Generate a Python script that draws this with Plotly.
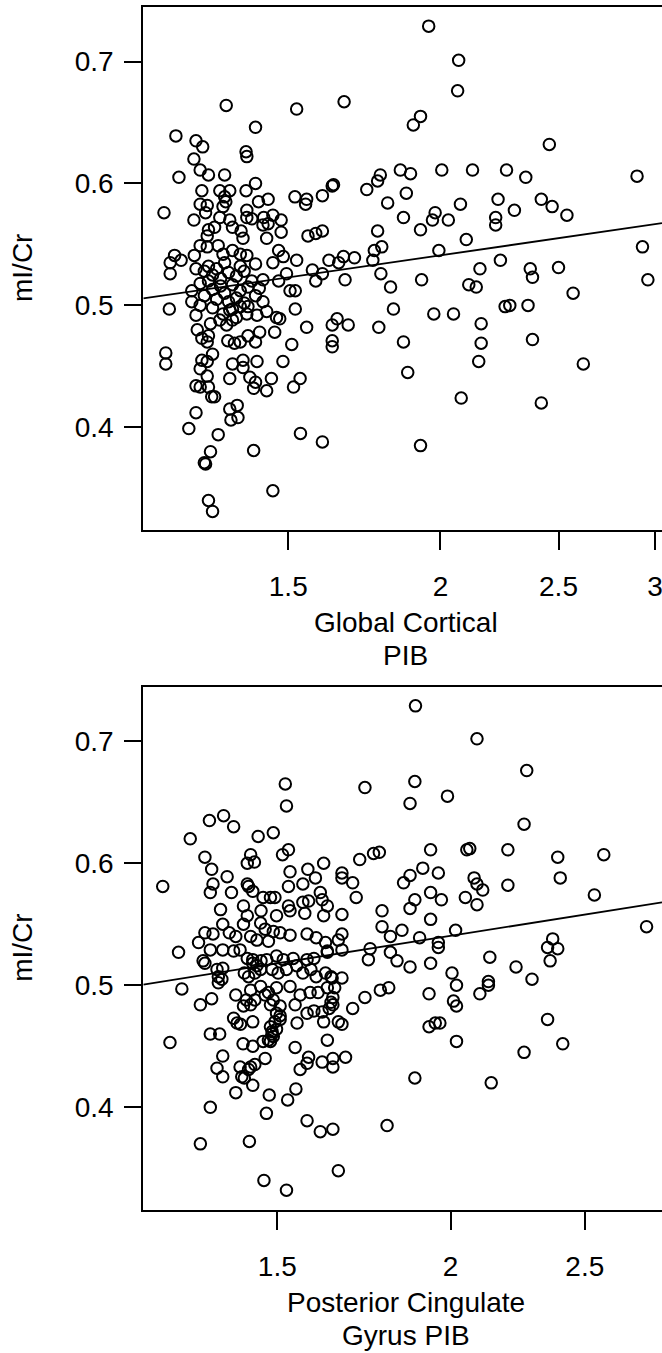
import plotly.graph_objects as go

# ---------------- data ----------------
# Panel 1: Global Cortical PIB (x, log scale) vs mI/Cr (y)
gc_x = [1.956, 2.07, 2.066, 1.667, 1.926, 1.90, 2.457, 1.634, 1.74, 1.776, 1.785, 1.854, 1.89, 1.875, 1.81,
        2.005, 2.125, 2.266, 2.35, 2.90, 2.077, 2.23, 2.30, 2.42, 2.47, 2.54, 1.98, 1.97, 2.03, 2.22, 2.22,
        1.865, 1.926, 1.776, 1.79, 1.765, 2.10, 1.994, 2.93, 1.76, 1.665, 1.70, 1.65, 1.787, 2.24, 2.155,
        2.37, 2.50, 2.38, 1.67, 1.93, 2.96, 2.11, 2.14, 1.82, 2.57,
        2.28, 2.26, 2.36, 1.83, 1.975, 2.05, 2.16, 1.78, 1.68, 1.645, 1.63, 1.865, 2.16, 2.38, 2.15, 2.62,
        1.88, 2.08, 2.42, 1.926, 1.63, 1.63,
        1.334, 1.524, 1.41, 1.213, 1.26, 1.276, 1.385, 1.387, 1.255, 1.27, 1.29, 1.33, 1.22, 1.274, 1.318,
        1.343, 1.385, 1.41, 1.33, 1.333, 1.326, 1.27, 1.287, 1.283, 1.418, 1.444, 1.387, 1.519, 1.553, 1.55,
        1.60, 1.63, 1.186, 1.255, 1.318, 1.343, 1.387, 1.40, 1.432, 1.457, 1.48, 1.43, 1.444, 1.29, 1.305,
        1.35, 1.372, 1.48, 1.44, 1.287, 1.377, 1.557, 1.58, 1.60, 1.27, 1.287, 1.314, 1.326, 1.35, 1.37,
        1.387, 1.473, 1.41, 1.457, 1.486, 1.524, 1.21, 1.20, 1.225, 1.20, 1.256, 1.26, 1.62, 1.57, 1.60,
        1.58, 1.495, 1.473, 1.43, 1.505, 1.52, 1.25, 1.27,
        1.28, 1.30, 1.31, 1.29, 1.32, 1.34, 1.36, 1.38, 1.35, 1.30, 1.33, 1.37, 1.39, 1.40, 1.28, 1.31,
        1.34, 1.36, 1.38, 1.41, 1.27, 1.30, 1.35, 1.39, 1.32, 1.42, 1.43, 1.29, 1.33, 1.37,
        1.198, 1.25, 1.26, 1.263, 1.274, 1.287, 1.29, 1.295, 1.318, 1.335, 1.35, 1.326, 1.343, 1.36, 1.37,
        1.387, 1.414, 1.44, 1.467, 1.476, 1.52, 1.553, 1.51, 1.462, 1.421, 1.39, 1.41, 1.338, 1.355, 1.37,
        1.19, 1.19, 1.274, 1.27, 1.287, 1.30, 1.35, 1.377, 1.377, 1.414, 1.485, 1.287, 1.343, 1.395, 1.41,
        1.405, 1.453, 1.44, 1.534, 1.515, 1.26, 1.27, 1.29, 1.298, 1.305, 1.362, 1.343, 1.364, 1.346, 1.26,
        1.243, 1.314, 1.535, 1.60, 1.405, 1.295, 1.28, 1.283, 1.457, 1.29, 1.30]
gc_y = [0.729, 0.701, 0.676, 0.667, 0.655, 0.648, 0.632, 0.599, 0.595, 0.602, 0.607, 0.611, 0.608, 0.592, 0.584,
        0.611, 0.611, 0.611, 0.605, 0.606, 0.583, 0.587, 0.578, 0.587, 0.581, 0.574, 0.576, 0.570, 0.570, 0.572, 0.566,
        0.572, 0.562, 0.561, 0.548, 0.545, 0.554, 0.545, 0.548, 0.537, 0.540, 0.539, 0.535, 0.526, 0.537, 0.530,
        0.530, 0.531, 0.523, 0.521, 0.521, 0.521, 0.517, 0.515, 0.515, 0.510,
        0.500, 0.499, 0.500, 0.497, 0.493, 0.493, 0.485, 0.482, 0.484, 0.489, 0.484, 0.470, 0.469, 0.472, 0.454, 0.452,
        0.445, 0.424, 0.420, 0.385, 0.471, 0.466,
        0.664, 0.661, 0.646, 0.639, 0.635, 0.630, 0.626, 0.622, 0.620, 0.611, 0.607, 0.607, 0.605, 0.594, 0.594,
        0.594, 0.594, 0.600, 0.589, 0.585, 0.581, 0.583, 0.582, 0.576, 0.585, 0.587, 0.578, 0.589, 0.587, 0.583,
        0.590, 0.598, 0.576, 0.570, 0.572, 0.570, 0.572, 0.571, 0.572, 0.574, 0.570, 0.566, 0.567, 0.562, 0.564,
        0.564, 0.561, 0.560, 0.555, 0.557, 0.555, 0.557, 0.559, 0.561, 0.549, 0.548, 0.549, 0.542, 0.545, 0.542,
        0.541, 0.545, 0.534, 0.535, 0.540, 0.537, 0.541, 0.535, 0.537, 0.526, 0.541, 0.530, 0.537, 0.529, 0.526,
        0.520, 0.526, 0.520, 0.521, 0.512, 0.512, 0.512, 0.518,
        0.528, 0.525, 0.530, 0.520, 0.522, 0.527, 0.524, 0.528, 0.517, 0.513, 0.510, 0.512, 0.515, 0.520, 0.508, 0.505,
        0.503, 0.506, 0.502, 0.508, 0.500, 0.498, 0.497, 0.499, 0.516, 0.514, 0.503, 0.532, 0.535, 0.532,
        0.497, 0.503, 0.492, 0.480, 0.473, 0.470, 0.475, 0.485, 0.488, 0.484, 0.488, 0.493, 0.496, 0.490, 0.499,
        0.493, 0.492, 0.495, 0.490, 0.489, 0.497, 0.482, 0.468, 0.478, 0.478, 0.475, 0.470, 0.471, 0.469, 0.470,
        0.461, 0.452, 0.455, 0.448, 0.454, 0.460, 0.452, 0.455, 0.449, 0.454, 0.454, 0.442, 0.440, 0.441, 0.437,
        0.432, 0.440, 0.430, 0.440, 0.433, 0.434, 0.433, 0.433, 0.425, 0.425, 0.418, 0.415, 0.408, 0.406, 0.412,
        0.399, 0.394, 0.395, 0.388, 0.381, 0.380, 0.371, 0.370, 0.348, 0.340, 0.331]

# Panel 2: Posterior Cingulate Gyrus PIB (x, log scale) vs mI/Cr (y)
pcg_x = [1.887, 2.09, 2.27, 1.735, 1.885, 1.87, 1.99, 2.26, 1.72, 1.76, 1.777, 1.935, 2.055, 2.065, 2.2, 2.39,
         2.58, 1.67, 1.67, 1.70, 1.85, 1.87, 1.91, 1.96, 2.08, 2.09, 2.11, 2.2, 2.40, 2.54, 1.71, 1.935, 1.885,
         1.97, 2.05, 2.09, 1.785, 1.87, 1.67, 1.935, 1.785, 1.845, 2.017, 2.77, 1.81, 1.90, 1.67, 1.66, 1.75,
         1.745, 1.81, 1.83, 1.96, 1.96, 1.935, 1.87, 2.135, 2.23, 2.35, 2.37, 2.39, 2.36, 2.005, 2.29, 2.13,
         1.64, 1.63, 1.67,
         1.78, 1.805, 1.735, 1.70, 1.93, 2.02, 2.01, 2.02, 2.10, 2.13, 1.93, 1.95, 1.965, 2.35, 2.02, 2.41,
         2.26, 1.885, 2.14, 1.80, 1.66,
         1.28, 1.32, 1.345, 1.255, 1.342, 1.363, 1.37, 1.357, 1.37, 1.40, 1.342, 1.32, 1.432, 1.467, 1.523,
         1.473, 1.48, 1.526, 1.547, 1.576, 1.611, 1.645, 1.41, 1.43, 1.435, 1.445, 1.44, 1.42, 1.414, 1.47,
         1.545, 1.558, 1.576, 1.58, 1.616, 1.645, 1.645, 1.68, 1.63, 1.417, 1.44, 1.465, 1.483, 1.487, 1.483,
         1.494, 1.507, 1.498, 1.395, 1.403, 1.411, 1.44, 1.55, 1.62, 1.66, 1.67, 1.576, 1.594, 1.616, 1.635,
         1.645, 1.545, 1.435, 1.459, 1.478, 1.498, 1.532, 1.558, 1.584, 1.605, 1.63, 1.65, 1.645, 1.64, 1.40,
         1.425, 1.435, 1.445, 1.47, 1.49, 1.483, 1.507, 1.418, 1.487, 1.49, 1.478, 1.498, 1.507, 1.36,
         1.52, 1.523, 1.34, 1.372, 1.395, 1.298, 1.453, 1.49, 1.513, 1.528, 1.435, 1.427, 1.444, 1.33, 1.345,
         1.62, 1.532, 1.578, 1.598, 1.565, 1.528, 1.38, 1.348, 1.342, 1.39, 1.427, 1.43, 1.44, 1.24, 1.465,
         1.483, 1.494, 1.528, 1.565, 1.58, 1.611, 1.616, 1.63, 1.365, 1.418, 1.427, 1.46, 1.498, 1.532, 1.57,
         1.62, 1.37, 1.418, 1.459, 1.47, 1.49, 1.507, 1.33, 1.348, 1.385, 1.40, 1.435, 1.45, 1.478, 1.532,
         1.576, 1.60, 1.625, 1.316, 1.342, 1.37, 1.395, 1.41, 1.273, 1.326, 1.33, 1.427, 1.44, 1.46, 1.474,
         1.498, 1.515, 1.54, 1.576, 1.594, 1.63, 1.44, 1.45, 1.445, 1.459, 1.43, 1.42, 1.357, 1.36, 1.37,
         1.368, 1.487, 1.502, 1.523, 1.549, 1.565, 1.586, 1.60, 1.625, 1.643, 1.67]
pcg_y = [0.729, 0.702, 0.676, 0.662, 0.667, 0.649, 0.655, 0.632, 0.603, 0.608, 0.609, 0.611, 0.611, 0.612, 0.611, 0.605,
         0.607, 0.592, 0.588, 0.584, 0.584, 0.590, 0.596, 0.592, 0.588, 0.583, 0.578, 0.582, 0.588, 0.574, 0.572, 0.576, 0.570,
         0.570, 0.572, 0.566, 0.561, 0.563, 0.558, 0.554, 0.548, 0.545, 0.545, 0.548, 0.540, 0.539, 0.542, 0.537, 0.530,
         0.521, 0.527, 0.520, 0.535, 0.531, 0.518, 0.515, 0.523, 0.515, 0.531, 0.538, 0.530, 0.520, 0.510, 0.505, 0.503,
         0.507, 0.528, 0.529,
         0.496, 0.498, 0.490, 0.481, 0.493, 0.500, 0.487, 0.483, 0.493, 0.500, 0.466, 0.469, 0.469, 0.472, 0.454, 0.452,
         0.445, 0.424, 0.420, 0.385, 0.348,
         0.497, 0.484, 0.489, 0.453, 0.460, 0.460, 0.442, 0.432, 0.425, 0.412, 0.400, 0.370, 0.372, 0.340, 0.332,
         0.395, 0.410, 0.406, 0.415, 0.389, 0.380, 0.382, 0.433, 0.431, 0.433, 0.435, 0.418, 0.424, 0.425, 0.440,
         0.449, 0.431, 0.436, 0.441, 0.437, 0.440, 0.433, 0.441, 0.455, 0.452, 0.450, 0.454, 0.454, 0.460, 0.466,
         0.470, 0.472, 0.477, 0.473, 0.469, 0.468, 0.470, 0.469, 0.470, 0.470, 0.468, 0.477, 0.479, 0.478, 0.481,
         0.484, 0.484, 0.496, 0.499, 0.494, 0.498, 0.499, 0.492, 0.494, 0.494, 0.498, 0.498, 0.490, 0.486, 0.492,
         0.488, 0.484, 0.488, 0.492, 0.488, 0.484, 0.483, 0.483, 0.462, 0.458, 0.455, 0.464, 0.475, 0.502,
         0.665, 0.647, 0.635, 0.639, 0.630, 0.620, 0.622, 0.625, 0.607, 0.611, 0.607, 0.600, 0.601, 0.605, 0.595,
         0.600, 0.593, 0.595, 0.588, 0.583, 0.581, 0.589, 0.583, 0.576, 0.576, 0.583, 0.581, 0.577, 0.581, 0.572,
         0.572, 0.572, 0.565, 0.568, 0.569, 0.576, 0.570, 0.565, 0.562, 0.565, 0.557, 0.561, 0.557, 0.561, 0.559,
         0.557, 0.550, 0.550, 0.551, 0.546, 0.544, 0.543, 0.543, 0.542, 0.543, 0.540, 0.540, 0.537, 0.536, 0.541,
         0.542, 0.539, 0.535, 0.535, 0.529, 0.529, 0.528, 0.529, 0.527, 0.520, 0.518, 0.522, 0.521, 0.520, 0.521,
         0.524, 0.521, 0.522, 0.521, 0.522, 0.527, 0.518, 0.516, 0.510, 0.513, 0.507, 0.510, 0.513, 0.507, 0.514,
         0.505, 0.513, 0.510, 0.513, 0.516, 0.510, 0.513, 0.507, 0.510, 0.506, 0.506]

# Fitted regression lines: mI/Cr = intercept + slope * log10(PIB)
gc_fit = {"intercept": 0.4974, "slope": 0.145}
pcg_fit = {"intercept": 0.4863, "slope": 0.180}

x_tick_vals_gc = [1.5, 2, 2.5, 3]
x_tick_vals_pcg = [1.5, 2, 2.5]
y_tick_vals = [0.4, 0.5, 0.6, 0.7]

x_title_gc = ["Global Cortical", "PIB"]
x_title_pcg = ["Posterior Cingulate", "Gyrus PIB"]
y_title = "mI/Cr"

# ---------------- layout geometry ----------------
# The page's default body margin is removed (post_script), so the figure fills the window.
W, H = 662, 1353
FONT = "Liberation Sans, Arial, Helvetica, sans-serif"
FS = 28

gc_xrange = [0.05710, 0.48289]     # log10 units
pcg_xrange = [0.07940, 0.45362]
y_range = [0.3158, 0.7447]

# positions in window pixels
left_px = 143.3
top1, bot1 = 7, 530
top2, bot2 = 686.7, 1210


def px(v):
    return min(1.0, max(0.0, v / W))


def py(v):
    return min(1.0, max(0.0, 1 - v / H))


fig = go.Figure()

marker = dict(symbol="circle-open", size=11.5, color="black", line=dict(color="black", width=2))

fig.add_trace(go.Scatter(x=gc_x, y=gc_y, mode="markers", marker=marker, xaxis="x", yaxis="y",
                         showlegend=False, hoverinfo="x+y"))
fig.add_trace(go.Scatter(x=pcg_x, y=pcg_y, mode="markers", marker=marker, xaxis="x2", yaxis="y2",
                         showlegend=False, hoverinfo="x+y"))

# regression lines across the full x range
for fit, xr, xa, ya in [(gc_fit, gc_xrange, "x", "y"), (pcg_fit, pcg_xrange, "x2", "y2")]:
    lx = [10 ** xr[0], 10 ** xr[1]]
    ly = [fit["intercept"] + fit["slope"] * xr[0], fit["intercept"] + fit["slope"] * xr[1]]
    fig.add_trace(go.Scatter(x=lx, y=ly, mode="lines", line=dict(color="black", width=1.8),
                             xaxis=xa, yaxis=ya, showlegend=False, hoverinfo="skip"))

xcommon = dict(type="log", showgrid=False, zeroline=False, showline=True, mirror=True,
               linecolor="black", linewidth=2, ticks="outside", ticklen=18, tickwidth=2,
               tickcolor="black", tickfont=dict(family=FONT, size=FS, color="black"),
               ticklabelstandoff=12, ticklabeloverflow="allow")
ycommon = dict(showgrid=False, zeroline=False, showline=True, mirror=False,
               linecolor="black", linewidth=2, ticks="outside", ticklen=17, tickwidth=2,
               tickcolor="black", tickfont=dict(family=FONT, size=FS, color="black"),
               tickvals=y_tick_vals, ticktext=[f"{v:.1f}" for v in y_tick_vals],
               range=y_range, ticklabelstandoff=5)

fig.update_layout(
    width=W, height=H,
    margin=dict(l=0, r=0, t=0, b=0, pad=0),
    paper_bgcolor="white", plot_bgcolor="white",
    font=dict(family=FONT, size=FS, color="black"),
    xaxis=dict(xcommon, domain=[px(left_px), 1], range=gc_xrange, anchor="y",
               tickvals=x_tick_vals_gc, ticktext=[f"{v:g}" for v in x_tick_vals_gc]),
    yaxis=dict(ycommon, domain=[py(bot1), py(top1)], anchor="x"),
    xaxis2=dict(xcommon, domain=[px(left_px), 1], range=pcg_xrange, anchor="y2",
                tickvals=x_tick_vals_pcg, ticktext=[f"{v:g}" for v in x_tick_vals_pcg]),
    yaxis2=dict(ycommon, domain=[py(bot2), py(top2)], anchor="x2"),
)

title_cx = px(405.5)
annots = []
for lines, bot in [(x_title_gc, bot1), (x_title_pcg, bot2)]:
    for i, t in enumerate(lines):
        cy = bot + 92.2 + 33 * i
        annots.append(dict(text=t, x=title_cx, y=py(cy), xref="paper", yref="paper",
                           xanchor="center", yanchor="middle", showarrow=False,
                           font=dict(family=FONT, size=FS, color="black")))
for top, bot in [(top1, bot1), (top2, bot2)]:
    annots.append(dict(text=y_title, x=px(22.5), y=py((top + bot) / 2), xref="paper", yref="paper",
                       xanchor="center", yanchor="middle", textangle=-90, showarrow=False,
                       font=dict(family=FONT, size=FS, color="black")))
fig.update_layout(annotations=annots)

fig.write_html(
    "out.html",
    config={"displayModeBar": False},
    post_script="document.body.style.margin='0px';document.body.style.overflow='hidden';"
                "document.documentElement.style.overflow='hidden';",
)
